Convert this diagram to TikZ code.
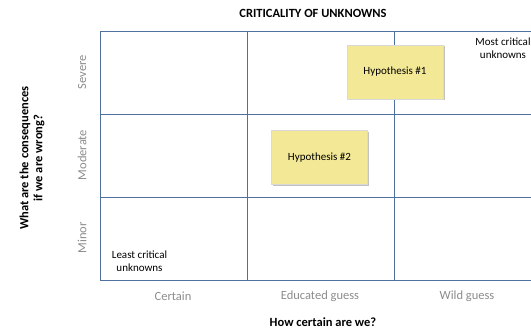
\documentclass[tikz,border=0pt]{standalone}
\usepackage{fontspec}
\setmainfont{Carlito}
\usetikzlibrary{positioning, shadows}

\definecolor{gridblue}{RGB}{79,113,160}
\definecolor{labelgray}{RGB}{140,140,140}
\definecolor{notefill}{RGB}{243,232,150}

\begin{document}
\begin{tikzpicture}[x=1pt, y=-1pt,
    gridline/.style={draw=gridblue, line width=0.9pt},
    levellabel/.style={text=labelgray, font=\fontsize{12.5}{14}\selectfont},
    axislabel/.style={align=center, font=\bfseries\fontsize{12.5}{14}\selectfont},
    note/.style={fill=notefill, draw=black!15, minimum width=96pt, minimum height=54pt,
        font=\fontsize{11}{13}\selectfont,
        drop shadow={shadow xshift=1.5pt, shadow yshift=-1.5pt, fill=black!40, opacity=0.6}},
    cornertext/.style={align=center, font=\fontsize{11}{13}\selectfont}]

    \useasboundingbox (0,0) rectangle (531,329);

    % Draw the grid of the matrix
    \foreach \y in {31,114,197,280}
        \draw[gridline] (100,\y) -- (531,\y);
    \foreach \x in {100,247,394}
        \draw[gridline] (\x,31) -- (\x,280);

    % Title and axis names
    \node[axislabel] (title) at (313,13) {CRITICALITY OF UNKNOWNS};
    \node[axislabel, rotate=90] (consequences) at (32,158) {What are the consequences\\if we are wrong?};
    \node[axislabel] (certainty) at (323,322) {How certain are we?};

    % Levels of consequences
    \node[levellabel, rotate=90] (severe) at (82,72) {Severe};
    \node[levellabel, rotate=90] (moderate) at (82,155) {Moderate};
    \node[levellabel, rotate=90] (minor) at (82,238) {Minor};

    % Levels of certainty
    \node[levellabel] (certain) at (173,296) {Certain};
    \node[levellabel] (educated) at (320,296) {Educated guess};
    \node[levellabel] (wild) at (467,296) {Wild guess};

    % Hypotheses
    \node[note] (hypo1) at (395,72) {Hypothesis \#1};
    \node[note] (hypo2) at (319.5,157.5) {Hypothesis \#2};

    % Corner texts
    \node[cornertext] (least) at (139.5,261) {Least critical\\unknowns};
    \node[cornertext] (most) at (503,48) {Most critical\\unknowns};

\end{tikzpicture}
\end{document}
